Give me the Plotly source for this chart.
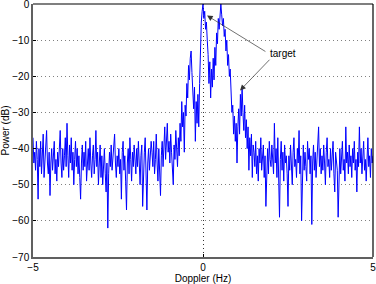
import numpy as np
import plotly.graph_objects as go

# Doppler axis: -5 .. 5 Hz, step 0.025 Hz
doppler_start = -5.0
doppler_step = 0.025

power_rows = [
    [-37,-44,-41,-46,-38,-43,-54,-40,-45,-38,-47,-42,-36,-48,-43,-40,-35,-44,-47,-41],
    [-53,-44,-40,-46,-42,-38,-47,-43,-49,-41,-45,-39,-35,-44,-48,-40,-46,-42,-37,-45],
    [-33,-42,-48,-39,-44,-37,-46,-41,-50,-43,-38,-45,-40,-47,-42,-48,-54,-44,-39,-46],
    [-41,-45,-38,-49,-43,-40,-46,-37,-44,-48,-42,-39,-47,-43,-35,-45,-41,-50,-44,-39],
    [-48,-42,-50,-45,-40,-47,-52,-44,-62,-47,-41,-45,-39,-46,-43,-40,-36,-44,-48,-42],
    [-45,-40,-47,-43,-54,-41,-38,-46,-42,-49,-57,-44,-40,-47,-37,-43,-49,-41,-45,-39],
    [-43,-47,-40,-45,-38,-44,-50,-42,-39,-56,-46,-41,-37,-48,-57,-44,-40,-46,-42,-38],
    [-41,-45,-38,-47,-43,-36,-44,-49,-40,-46,-53,-42,-38,-45,-40,-34,-43,-37,-33,-41],
    [-38,-44,-36,-41,-46,-50,-39,-43,-35,-40,-45,-37,-42,-33,-38,-27,-34,-30,-41,-28],
    [-31,-22,-26,-17,-21,-15,-13,-19,-24,-29,-23,-38,-27,-33,-25,-34,-22,-12,-5,-2],
    [0,-4,-2,-7,-5,-10,-14,-22,-16,-26,-18,-23,-15,-21,-12,-17,-8,-11,-4,-7],
    [-1,0,-3,-6,-4,-9,-7,-13,-10,-17,-14,-20,-18,-24,-30,-28,-36,-31,-38,-33],
    [-44,-34,-29,-36,-25,-31,-23,-30,-35,-28,-37,-32,-40,-34,-46,-37,-42,-36,-48,-39],
    [-41,-45,-38,-47,-42,-49,-40,-44,-37,-46,-43,-39,-48,-42,-56,-44,-40,-47,-38,-43],
    [-45,-39,-42,-47,-33,-44,-40,-48,-37,-45,-59,-43,-38,-46,-41,-49,-39,-44,-42,-47],
    [-56,-42,-46,-39,-44,-50,-41,-37,-45,-43,-48,-40,-44,-35,-47,-42,-60,-44,-39,-46],
    [-41,-45,-49,-38,-43,-40,-47,-42,-61,-44,-39,-46,-41,-48,-43,-37,-34,-45,-40,-47],
    [-42,-46,-39,-44,-50,-41,-37,-45,-43,-48,-40,-46,-42,-38,-47,-52,-41,-44,-46,-59],
    [-45,-40,-47,-42,-38,-46,-43,-49,-34,-44,-41,-47,-39,-45,-42,-48,-40,-44,-38,-46],
    [-43,-52,-41,-45,-34,-44,-40,-47,-42,-38,-46,-43,-49,-41,-37,-45,-42,-48,-40,-44],
]
power_last = [-42]

x_ticks = [-5, 0, 5]
y_ticks = [0, -10, -20, -30, -40, -50, -60, -70]
annotation_label = "target"

power = [v for row in power_rows for v in row] + power_last
doppler = doppler_start + doppler_step * np.arange(len(power))

fig = go.Figure()
fig.add_trace(go.Scatter(x=doppler, y=power, mode="lines",
                         line=dict(color="#0000ff", width=1), showlegend=False))

font = dict(family="Liberation Sans, Arial, sans-serif", size=10, color="black")

fig.update_layout(
    width=376, height=284,
    margin=dict(l=33, r=3, t=4, b=27),
    paper_bgcolor="white", plot_bgcolor="white",
    font=font,
    xaxis=dict(range=[-5, 5], tickvals=x_ticks, ticks="inside", ticklen=3,
               tickcolor="black", showline=True, linecolor="#606060", linewidth=1.5,
               showgrid=True, gridcolor="#333333", griddash="1px,3px", gridwidth=1,
               zeroline=False, automargin=False, ticklabeloverflow="allow",
               title=dict(text="Doppler (Hz)", standoff=1, font=font),
               tickfont=font),
    yaxis=dict(range=[-70, 0], tickvals=y_ticks, ticks="inside", ticklen=3,
               tickcolor="black", showline=True, linecolor="#606060", linewidth=1.5,
               showgrid=True, gridcolor="#808080", griddash="1px,3px", gridwidth=1,
               zeroline=False, automargin=False, ticklabeloverflow="allow",
               title=dict(text="Power (dB)", standoff=3, font=font),
               tickfont=font),
    shapes=[
        dict(type="line", xref="paper", yref="paper", x0=0, x1=1, y0=1, y1=1,
             line=dict(color="black", width=1.2)),
        dict(type="line", xref="paper", yref="paper", x0=1, x1=1, y0=0, y1=1,
             line=dict(color="black", width=1.2)),
    ],
)

fig.add_annotation(x=2.35, y=-13.6, text=annotation_label, showarrow=False,
                   font=font, xanchor="center", yanchor="middle")
fig.add_annotation(x=0.12, y=-3.2, ax=1.88, ay=-13.4, axref="x", ayref="y",
                   text="", showarrow=True, arrowhead=2, arrowsize=1.6,
                   arrowwidth=0.7, arrowcolor="#333333")
fig.add_annotation(x=1.09, y=-23.9, ax=2.0, ay=-15.0, axref="x", ayref="y",
                   text="", showarrow=True, arrowhead=2, arrowsize=1.6,
                   arrowwidth=0.7, arrowcolor="#333333")

fig.write_html("out.html", config={"displayModeBar": False},
               post_script="document.body.style.margin='0';document.body.style.overflow='hidden';")
